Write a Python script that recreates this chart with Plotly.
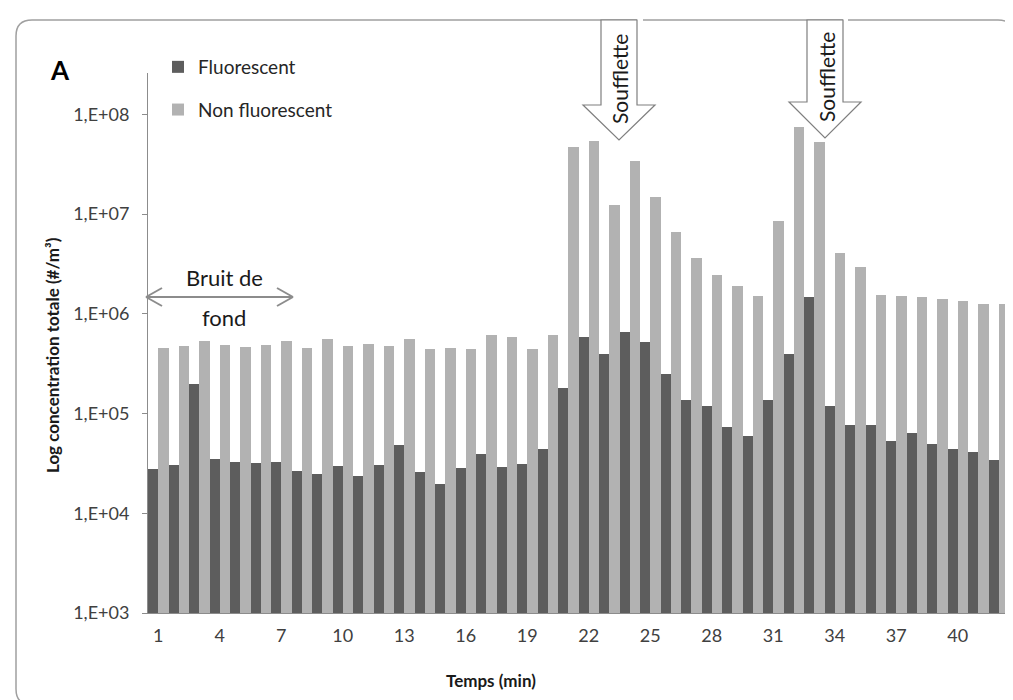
import plotly.graph_objects as go

# ---------------- data ----------------
minutes = list(range(1, 43))
fluorescent = [2.8e4, 3.07e4, 2.0e5, 3.5e4, 3.3e4, 3.2e4, 3.3e4, 2.67e4, 2.48e4, 2.98e4,
               2.38e4, 3.07e4, 4.8e4, 2.6e4, 1.98e4, 2.85e4, 3.9e4, 2.9e4, 3.1e4, 4.4e4,
               1.8e5, 5.8e5, 3.96e5, 6.6e5, 5.2e5, 2.5e5, 1.38e5, 1.18e5, 7.4e4, 6.0e4,
               1.36e5, 3.96e5, 1.49e6, 1.2e5, 7.7e4, 7.6e4, 5.35e4, 6.4e4, 4.9e4, 4.4e4,
               4.1e4, 3.4e4]
non_fluorescent = [4.6e5, 4.8e5, 5.4e5, 4.9e5, 4.7e5, 4.9e5, 5.4e5, 4.6e5, 5.6e5, 4.8e5,
                   5.0e5, 4.8e5, 5.6e5, 4.45e5, 4.55e5, 4.4e5, 6.2e5, 5.8e5, 4.4e5, 6.2e5,
                   4.75e7, 5.45e7, 1.24e7, 3.4e7, 1.5e7, 6.7e6, 3.6e6, 2.47e6, 1.9e6, 1.5e6,
                   8.5e6, 7.55e7, 5.3e7, 4.05e6, 2.95e6, 1.56e6, 1.5e6, 1.47e6, 1.42e6, 1.34e6,
                   1.26e6, 1.26e6]
x_tick_vals = list(range(1, 43, 3))
y_tick_vals = [1e3, 1e4, 1e5, 1e6, 1e7, 1e8]
y_tick_text = ["1,E+03", "1,E+04", "1,E+05", "1,E+06", "1,E+07", "1,E+08"]

# ---------------- layout geometry (pixels) ----------------
W, H = 1013, 700
L, R, T, B = 140, 1001, 65, 605
PW, PH = R - L, B - T


def px(xp):
    return (xp - L) / PW


def py(yp):
    return (B - yp) / PH


FONT = "Lato"
DARK = "#5d5d5d"
LIGHT = "#b2b2b2"
AXIS = "#8c8c8c"

fig = go.Figure()
fig.add_trace(go.Bar(x=minutes, y=fluorescent, name="Fluorescent",
                     marker=dict(color=DARK, line=dict(width=0)), legendgroup="a"))
fig.add_trace(go.Bar(x=minutes, y=non_fluorescent, name="Non fluorescent",
                     marker=dict(color=LIGHT, line=dict(width=0)), legendgroup="b"))

shapes = []
# outer rounded frame
fx0, fy0, fx1, fy1, rr = 8, 12, 1006, 697, 16
path = (f"M {px(fx0+rr)},{py(fy0)} L {px(fx1-rr)},{py(fy0)} "
        f"Q {px(fx1)},{py(fy0)} {px(fx1)},{py(fy0+rr)} "
        f"L {px(fx1)},{py(fy1-rr)} Q {px(fx1)},{py(fy1)} {px(fx1-rr)},{py(fy1)} "
        f"L {px(fx0+rr)},{py(fy1)} Q {px(fx0)},{py(fy1)} {px(fx0)},{py(fy1-rr)} "
        f"L {px(fx0)},{py(fy0+rr)} Q {px(fx0)},{py(fy0)} {px(fx0+rr)},{py(fy0)} Z")
shapes.append(dict(type="path", xref="paper", yref="paper", path=path,
                   line=dict(color="#a0a0a0", width=1.5), layer="below"))


def block_arrow(sx0, sx1, top, head_y, hx0, hx1, tip_x, tip_y):
    pts = [(sx0, top), (sx1, top), (sx1, head_y), (hx1, head_y), (tip_x, tip_y),
           (hx0, head_y), (sx0, head_y)]
    p = "M " + " L ".join(f"{px(a)},{py(b)}" for a, b in pts) + " Z"
    return dict(type="path", xref="paper", yref="paper", path=p,
                fillcolor="white", line=dict(color="#7f7f7f", width=1.2), layer="above")


# small breaks of the frame next to the arrows
for gx0, gx1 in [(629, 635), (835, 840)]:
    shapes.append(dict(type="rect", xref="paper", yref="paper", x0=px(gx0), x1=px(gx1),
                       y0=py(9), y1=py(15), fillcolor="white", line=dict(width=0)))
shapes.append(block_arrow(593, 629, 12, 97, 575, 647, 611, 132))
shapes.append(block_arrow(799, 835, 12, 94, 781, 853, 817, 130))

# "Bruit de fond" double arrow
ac = dict(color=AXIS, width=2)
for (a, b, c, d) in [(138, 289, 285, 289), (138, 289, 154, 280), (138, 289, 154, 298),
                     (285, 289, 269, 280), (285, 289, 269, 298)]:
    shapes.append(dict(type="line", xref="paper", yref="paper",
                       x0=px(a), y0=py(b), x1=px(c), y1=py(d), line=ac))

annotations = [
    dict(text="<b>A</b>", x=px(52), y=py(62), font=dict(size=26, color="#000000")),
    dict(text="<b>Log concentration totale (#/m³)</b>", x=px(45), y=py(347), textangle=-90,
         font=dict(size=17, color="#1a1a1a")),
    dict(text="<b>Temps (min)</b>", x=px(483), y=py(672), font=dict(size=17, color="#1a1a1a")),
    dict(text="Bruit de", x=px(216), y=py(269), font=dict(size=22, color="#1a1a1a")),
    dict(text="fond", x=px(216), y=py(309), font=dict(size=22, color="#1a1a1a")),
    dict(text="Soufflette", x=px(612), y=py(71), textangle=-90, font=dict(size=21, color="#1a1a1a")),
    dict(text="Soufflette", x=px(818), y=py(69), textangle=-90, font=dict(size=21, color="#1a1a1a")),
]
for an in annotations:
    an.update(xref="paper", yref="paper", showarrow=False, xanchor="center", yanchor="middle")

fig.update_layout(
    width=W, height=H,
    margin=dict(l=L, r=W - R, t=T, b=H - B, pad=0),
    paper_bgcolor="white", plot_bgcolor="white",
    font=dict(family=FONT, color="#404040"),
    barmode="group", bargap=0, bargroupgap=0,
    showlegend=True,
    legend=dict(x=px(150), y=py(40), xanchor="left", yanchor="top",
                font=dict(size=19, color="#262626"), bgcolor="rgba(0,0,0,0)",
                traceorder="grouped", tracegroupgap=15, itemwidth=30),
    shapes=shapes,
    annotations=annotations,
    xaxis=dict(range=[0.5, 42.5], tickmode="array", tickvals=x_tick_vals,
               ticktext=[str(v) for v in x_tick_vals], showgrid=False, zeroline=False,
               showline=True, linecolor=AXIS, linewidth=1, ticks="",
               tickfont=dict(size=18, color="#404040"), ticklabelstandoff=6),
    yaxis=dict(type="log", range=[3, 8.416], tickmode="array", tickvals=y_tick_vals,
               ticktext=y_tick_text, showgrid=False, zeroline=False,
               showline=True, linecolor=AXIS, linewidth=1, ticks="outside",
               ticklen=5, tickcolor=AXIS, tickfont=dict(size=18, color="#404040"),
               ticklabelstandoff=9),
)

fig.write_html("out.html")
